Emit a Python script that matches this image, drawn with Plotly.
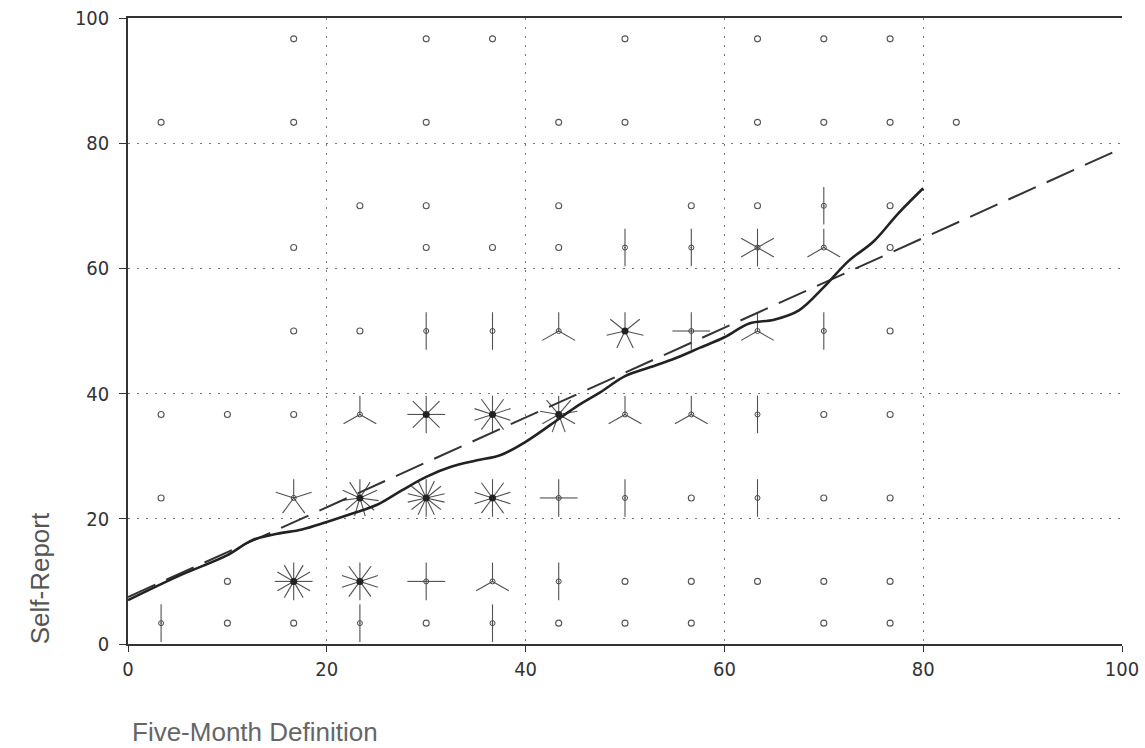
import math
import plotly.graph_objects as go

# ---- data ----
x_levels = [3.33, 10, 16.67, 23.33, 30, 36.67, 43.33, 50, 56.67, 63.33, 70, 76.67, 83.33]
row_y = [96.67, 83.33, 70, 63.33, 50, 36.67, 23.33, 10, 3.33]
counts_97 = [0, 0, 1, 0, 1, 1, 0, 1, 0, 1, 1, 1, 0]
counts_83 = [1, 0, 1, 0, 1, 0, 1, 1, 0, 1, 1, 1, 1]
counts_70 = [0, 0, 0, 1, 1, 0, 1, 0, 1, 1, 2, 1, 0]
counts_63 = [0, 0, 1, 0, 1, 1, 1, 2, 2, 6, 3, 1, 0]
counts_50 = [0, 0, 1, 1, 2, 2, 3, 7, 4, 3, 2, 1, 0]
counts_37 = [1, 1, 1, 3, 8, 10, 9, 3, 3, 2, 1, 1, 0]
counts_23 = [1, 0, 5, 11, 14, 10, 4, 2, 1, 2, 1, 1, 0]
counts_10 = [0, 1, 12, 10, 4, 3, 2, 1, 1, 1, 1, 1, 0]
counts_03 = [2, 1, 1, 2, 1, 2, 1, 1, 1, 0, 1, 1, 0]
count_rows = [counts_97, counts_83, counts_70, counts_63, counts_50,
              counts_37, counts_23, counts_10, counts_03]

# smooth (lowess-type) curve
smooth_x = [0, 5, 10, 12.5, 15, 17.5, 20, 22.5, 25, 27.5, 30, 32.5, 35, 37.5, 40,
            42.5, 45, 47.5, 50, 52.5, 55, 57.5, 60, 62.5, 65, 67.5, 70, 72.5, 75,
            77.5, 80]
smooth_y = [7.0, 10.8, 14.2, 16.6, 17.6, 18.3, 19.5, 20.8, 22.2, 24.5, 26.7, 28.3,
            29.3, 30.2, 32.3, 35.0, 37.8, 40.2, 42.8, 44.2, 45.6, 47.3, 49.0, 51.2,
            51.8, 53.3, 57.0, 61.2, 64.3, 68.8, 72.8]

# linear fit (dashed)
fit_x = [0, 100]
fit_y = [7.5, 79.2]

x_ticks = [0, 20, 40, 60, 80, 100]
y_ticks = [0, 20, 40, 60, 80, 100]

# ---- build sunflower marks ----
PETAL_X = 1.9   # petal half-size in x data units
PETAL_Y = 3.0   # petal half-size in y data units

single_x, single_y = [], []
multi_x, multi_y = [], []
big_x, big_y = [], []
petal_x, petal_y = [], []
for yv, row in zip(row_y, count_rows):
    for xv, n in zip(x_levels, row):
        if n == 0:
            continue
        if n == 1:
            single_x.append(xv)
            single_y.append(yv)
            continue
        if n >= 7:
            big_x.append(xv)
            big_y.append(yv)
        else:
            multi_x.append(xv)
            multi_y.append(yv)
        for k in range(1, n + 1):
            d = 2 * math.pi * k / n
            petal_x += [xv, xv + PETAL_X * math.sin(d), None]
            petal_y += [yv, yv + PETAL_Y * math.cos(d), None]

fig = go.Figure()

fig.add_trace(go.Scatter(x=petal_x, y=petal_y, mode="lines",
                         line=dict(color="#505050", width=1.1),
                         hoverinfo="skip", showlegend=False))
fig.add_trace(go.Scatter(x=single_x, y=single_y, mode="markers",
                         marker=dict(symbol="circle-open", size=6,
                                     color="#555555", line=dict(width=1.1)),
                         showlegend=False))
fig.add_trace(go.Scatter(x=multi_x, y=multi_y, mode="markers",
                         marker=dict(symbol="circle-open-dot", size=5,
                                     color="#444444", line=dict(width=1)),
                         showlegend=False))
fig.add_trace(go.Scatter(x=big_x, y=big_y, mode="markers",
                         marker=dict(symbol="circle", size=7, color="#222222"),
                         showlegend=False))

fig.add_trace(go.Scatter(x=fit_x, y=fit_y, mode="lines",
                         line=dict(color="#333333", width=2, dash="30px,12px"),
                         showlegend=False))
fig.add_trace(go.Scatter(x=smooth_x, y=smooth_y, mode="lines",
                         line=dict(color="#222222", width=2.6, shape="spline"),
                         showlegend=False))

tick_font = dict(family="DejaVu Sans Condensed, Liberation Sans Narrow, sans-serif",
                 size=20, color="#333333")

fig.update_layout(
    width=1145, height=748,
    margin=dict(l=128, r=23, t=18, b=104, autoexpand=False),
    paper_bgcolor="white", plot_bgcolor="white",
    xaxis=dict(range=[0, 100], tickvals=x_ticks, ticktext=[str(v) for v in x_ticks],
               showgrid=True, gridcolor="#777777", griddash="2px,7px", gridwidth=1,
               showline=True, linecolor="#333333", linewidth=1.5, mirror=True,
               ticks="outside", ticklen=6, tickcolor="#333333",
               tickfont=tick_font, zeroline=False, automargin=False),
    yaxis=dict(range=[0, 100], tickvals=y_ticks, ticktext=[str(v) for v in y_ticks],
               showgrid=True, gridcolor="#777777", griddash="2px,7px", gridwidth=1,
               showline=True, linecolor="#333333", linewidth=1.5,
               ticks="outside", ticklen=7, tickcolor="#333333",
               ticklabelstandoff=6,
               tickfont=tick_font, zeroline=False, automargin=False),
    annotations=[
        dict(text="Self-Report", xref="paper", yref="paper", x=-0.0885, y=0.105,
             textangle=-90, showarrow=False, xanchor="center", yanchor="middle",
             font=dict(family="Liberation Sans, Arial, sans-serif", size=26,
                       color="#555555")),
        dict(text="Five-Month Definition", xref="paper", yref="paper", x=0.002,
             y=-0.1406, showarrow=False, xanchor="left", yanchor="middle",
             font=dict(family="Liberation Sans, Arial, sans-serif", size=26,
                       color="#666666")),
    ],
)

fig.write_html("out.html", config={"displayModeBar": False},
               post_script="document.body.style.margin='0';document.body.style.overflow='hidden';")
